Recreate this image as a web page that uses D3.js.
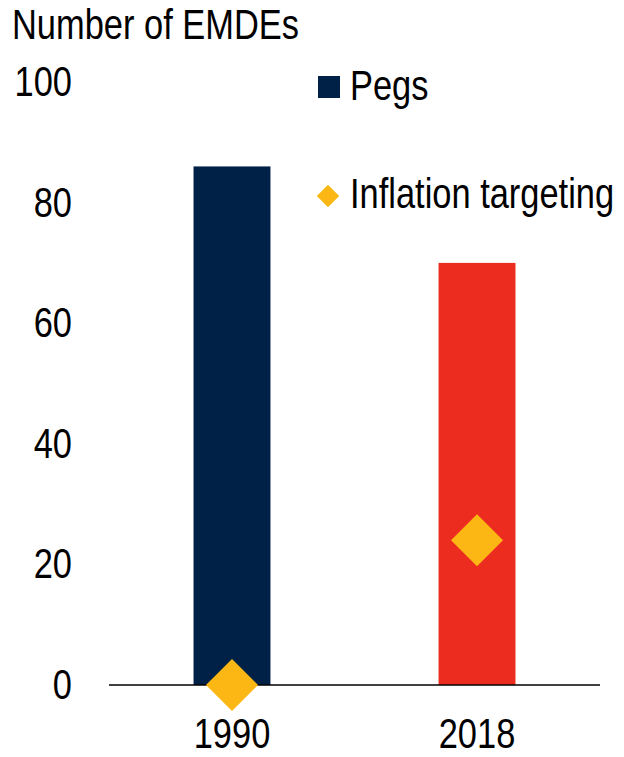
<!DOCTYPE html>
<html>
<head>
<meta charset="utf-8">
<script src="https://cdn.jsdelivr.net/npm/d3@7"></script>
<style>
  body { margin: 0; background: #fff; }
  text { font-family: "Liberation Sans", Arial, sans-serif; fill: #000; font-size: 42px; }
</style>
</head>
<body>
<div class="chart"></div>
<script>
// Values
var years = ["1990", "2018"];
var pegs = [86, 70];
var inflationTargeting = [0, 24];
var yTicks = [0, 20, 40, 60, 80, 100];
var barColors = ["#002147", "#EC2C1F"];
var diamondColor = "#FDB714";

var width = 624, height = 757;
// the reference font is a narrow sans, so squeeze text horizontally
var squeeze = "scale(0.82,1)";

var svg = d3.select(".chart").append("svg")
    .attr("width", width)
    .attr("height", height);

// Scales
var x = d3.scaleBand()
    .domain(years)
    .range([109, 600])
    .paddingInner(0.686)
    .paddingOuter(0.345);

var y = d3.scaleLinear()
    .domain([0, 100])
    .range([685, 82]);

// Y tick labels (no axis line)
svg.append("g")
    .attr("transform", "translate(72,0)")
    .call(d3.axisLeft(y).tickValues(yTicks).tickSize(0).tickPadding(0))
    .call(g => g.select(".domain").remove())
    .selectAll("text")
    .attr("transform", squeeze);

// Title
svg.append("g")
    .attr("transform", "translate(12,39)")
  .append("text")
    .attr("transform", squeeze)
    .text("Number of EMDEs");

// Bars
svg.selectAll("rect.bar")
    .data(years)
    .enter().append("rect")
    .attr("class", "bar")
    .attr("x", d => x(d))
    .attr("width", x.bandwidth())
    .attr("y", (d, i) => y(pegs[i]))
    .attr("height", (d, i) => y(0) - y(pegs[i]))
    .attr("fill", (d, i) => barColors[i]);

// X axis
svg.append("g")
    .attr("transform", "translate(0," + y(0) + ")")
    .call(d3.axisBottom(x).tickSize(0).tickPadding(33))
    .call(g => g.select(".domain").attr("stroke", "#000").attr("stroke-width", 1.5).attr("d", "M109,0H600"))
    .selectAll("text")
    .attr("transform", squeeze);

// Diamonds
var diamond = d3.symbol().type(d3.symbolSquare).size(1354);
svg.selectAll("path.diamond")
    .data(years)
    .enter().append("path")
    .attr("class", "diamond")
    .attr("d", diamond)
    .attr("fill", diamondColor)
    .attr("transform", (d, i) => "translate(" + (x(d) + x.bandwidth() / 2) + "," + y(inflationTargeting[i]) + ") rotate(45)");

// Legend
var legend = svg.append("g");
legend.append("rect")
    .attr("x", 318).attr("y", 76)
    .attr("width", 22).attr("height", 22)
    .attr("fill", barColors[0]);
legend.append("g")
    .attr("transform", "translate(350,100)")
  .append("text")
    .attr("transform", squeeze)
    .text("Pegs");
legend.append("path")
    .attr("d", d3.symbol().type(d3.symbolSquare).size(250))
    .attr("fill", diamondColor)
    .attr("transform", "translate(328,196) rotate(45)");
legend.append("g")
    .attr("transform", "translate(350,208)")
  .append("text")
    .attr("transform", squeeze)
    .text("Inflation targeting");
</script>
</body>
</html>
